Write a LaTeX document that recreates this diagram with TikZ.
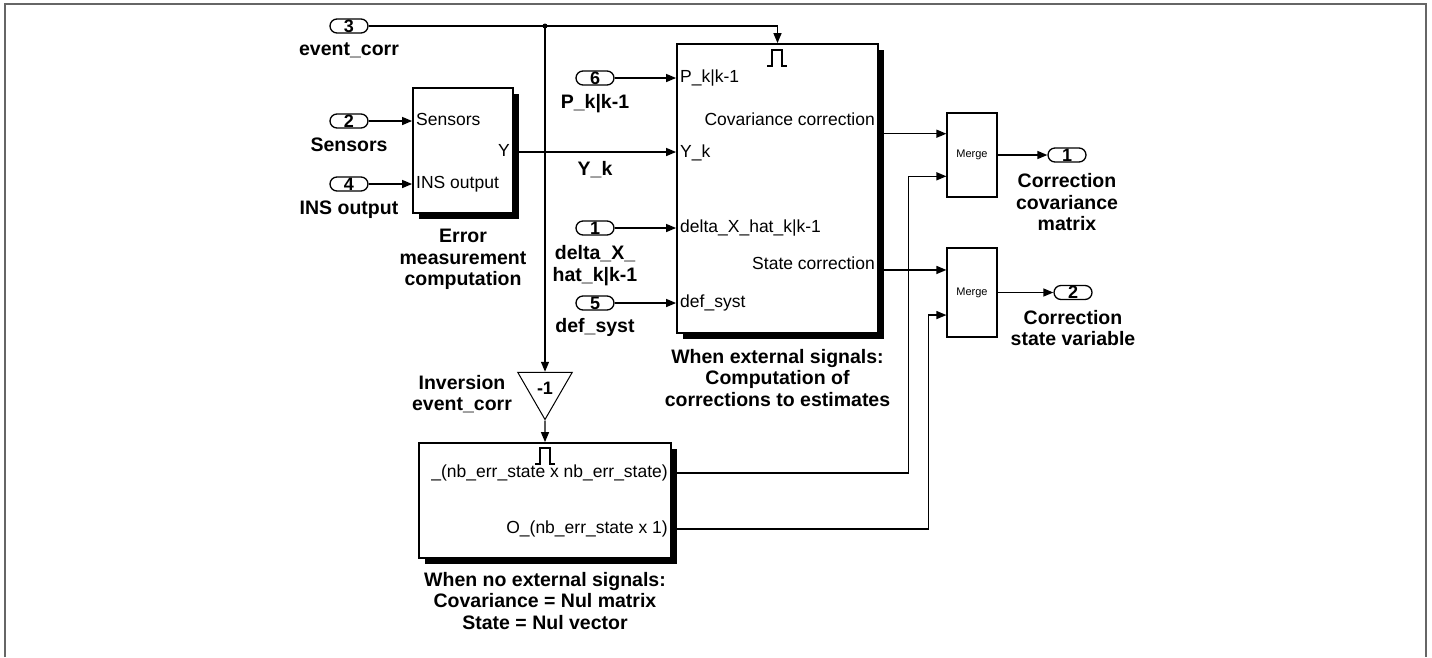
\documentclass[tikz,border=0pt]{standalone}
\usepackage{fontspec}
\setmainfont{Liberation Sans}
\usetikzlibrary{positioning, arrows.meta, calc, shapes.geometric, shadows}

\begin{document}
\begin{tikzpicture}[
        x=1pt, y=-1pt,
        >={Triangle[length=10pt, width=8pt]},
        wire/.style={line width=1.4pt},
        inport/.style={draw, line width=1.3pt, rounded corners=7pt, minimum width=38pt, minimum height=14pt, inner sep=0pt, font=\fontsize{18}{18}\bfseries},
        lbl/.style={align=center, inner sep=0pt, font=\fontsize{19.5}{21.5}\bfseries},
        subsys/.style={draw, line width=1.8pt, fill=white, inner sep=0pt, general shadow={fill=black, shadow xshift=6pt, shadow yshift=-6pt}},
        portL/.style={anchor=west, inner sep=0pt, text height=12pt, text depth=4pt, font=\fontsize{17.5}{17.5}\selectfont},
        portR/.style={portL, anchor=east},
        mergebox/.style={draw, line width=1.2pt, minimum width=50pt, inner sep=0pt, font=\fontsize{11}{11}\selectfont},
        gain/.style={draw, line width=1pt, regular polygon, regular polygon sides=3, shape border rotate=180, minimum size=63pt, inner sep=0pt, font=\fontsize{18}{18}\bfseries},
        pulse/.pic={\draw[line width=1.3pt] (-10,8) -- (-5,8) -- (-5,-8) -- (5,-8) -- (5,8) -- (10,8);}
    ]
        \useasboundingbox (0,0) rectangle (1432,657);
        % Frame
        \draw[line width=1.5pt, black!60] (5,657) -- (5,4) -- (1426,4) -- (1426,657);

        % Blocks
        \node[subsys, minimum width=100pt, minimum height=125pt] (err) at (463,150.5) {};
        \node[subsys, minimum width=201pt, minimum height=289pt] (corr) at (777.5,188.5) {};
        \node[subsys, minimum width=252pt, minimum height=115pt] (nul) at (545,500.5) {};
        \node[mergebox, minimum height=84pt] (mergeP) at (972,155) {Merge};
        \node[mergebox, minimum height=89pt] (mergeX) at (972,292.5) {Merge};
        \node[gain] (inv) at (545,388) {-1};

        % Block ports
        \node[portL] (errS) at (416,121) {Sensors};
        \node[portR] (errY) at (510,152) {Y};
        \node[portL] (errI) at (416,184) {INS output};
        \node[portL] (corrP) at (680,78) {P\_k|k-1};
        \node[portR] (corrC) at (875,121) {Covariance correction};
        \node[portL] (corrY) at (680,153) {Y\_k};
        \node[portL] (corrD) at (680,228) {delta\_X\_hat\_k|k-1};
        \node[portR] (corrS) at (875,265) {State correction};
        \node[portL] (corrF) at (680,303) {def\_syst};
        \node[portR] (nulP) at (668,473) {\_(nb\_err\_state x nb\_err\_state)};
        \node[portR] (nulX) at (668,529) {O\_(nb\_err\_state x 1)};
        \pic at (777,58) {pulse};
        \pic at (545,456) {pulse};

        % Block labels
        \node[lbl, below=15pt of err] (errLbl) {Error\\measurement\\computation};
        \node[lbl, below=15pt of corr] (corrLbl) {When external signals:\\Computation of\\corrections to estimates};
        \node[lbl, below=13pt of nul] (nulLbl) {When no external signals:\\Covariance = Nul matrix\\State = Nul vector};
        \node[lbl] (invLbl) at (462,394) {Inversion\\event\_corr};
        \node[lbl] (ykLbl) at (595,170) {Y\_k};

        % Inports
        \node[inport] (in3) at (349,26) {3};
        \node[inport] (in2) at (349,121) {2};
        \node[inport] (in4) at (349,184) {4};
        \node[inport] (in6) at (595,78) {6};
        \node[inport] (in1) at (595,228) {1};
        \node[inport] (in5) at (595,303) {5};
        \node[lbl, below=9pt of in3] (in3Lbl) {event\_corr};
        \node[lbl, below=9pt of in2] (in2Lbl) {Sensors};
        \node[lbl, below=9pt of in4] (in4Lbl) {INS output};
        \node[lbl, below=9pt of in6] (in6Lbl) {P\_k|k-1};
        \node[lbl, below=10pt of in1] (in1Lbl) {delta\_X\_\\hat\_k|k-1};
        \node[lbl, below=8pt of in5] (in5Lbl) {def\_syst};

        % Outports
        \node[inport] (out1) at (1067,155) {1};
        \node[inport] (out2) at (1073,292.5) {2};
        \node[lbl, below=11pt of out1] (out1Lbl) {Correction\\covariance\\matrix};
        \node[lbl, below=10pt of out2] (out2Lbl) {Correction\\state variable};

        % Merge inputs
        \coordinate (mP1) at ($(mergeP.north west)!0.25!(mergeP.south west)$);
        \coordinate (mP2) at ($(mergeP.north west)!0.75!(mergeP.south west)$);
        \coordinate (mX1) at ($(mergeX.north west)!0.25!(mergeX.south west)$);
        \coordinate (mX2) at ($(mergeX.north west)!0.75!(mergeX.south west)$);
        \coordinate (tap) at (in3 -| inv.north);

        % Wires
        \draw[wire, ->] (in3) -| (corr.north);
        \fill (tap) circle (2.5pt);
        \draw[wire, ->] (tap) -- (inv.north);
        \draw[wire, ->] (inv.south) -- (nul.north);
        \draw[wire, ->] (in2) -- (in2 -| err.west);
        \draw[wire, ->] (in4) -- (in4 -| err.west);
        \draw[wire, ->] (errY -| err.east) -- (errY -| corr.west);
        \draw[wire, ->] (in6) -- (in6 -| corr.west);
        \draw[wire, ->] (in1) -- (in1 -| corr.west);
        \draw[wire, ->] (in5) -- (in5 -| corr.west);
        \draw[wire, ->] (corr.east |- mP1) -- (mP1);
        \draw[wire, ->] (corr.east |- mX1) -- (mX1);
        \draw[wire, ->] (nulP -| nul.east) -| ($(mP2)+(-38,0)$) -- (mP2);
        \draw[wire, ->] (nulX -| nul.east) -| ($(mX2)+(-18,0)$) -- (mX2);
        \draw[wire, ->] (mergeP) -- (out1);
        \draw[wire, ->] (mergeX) -- (out2);
    \end{tikzpicture}
\end{document}
